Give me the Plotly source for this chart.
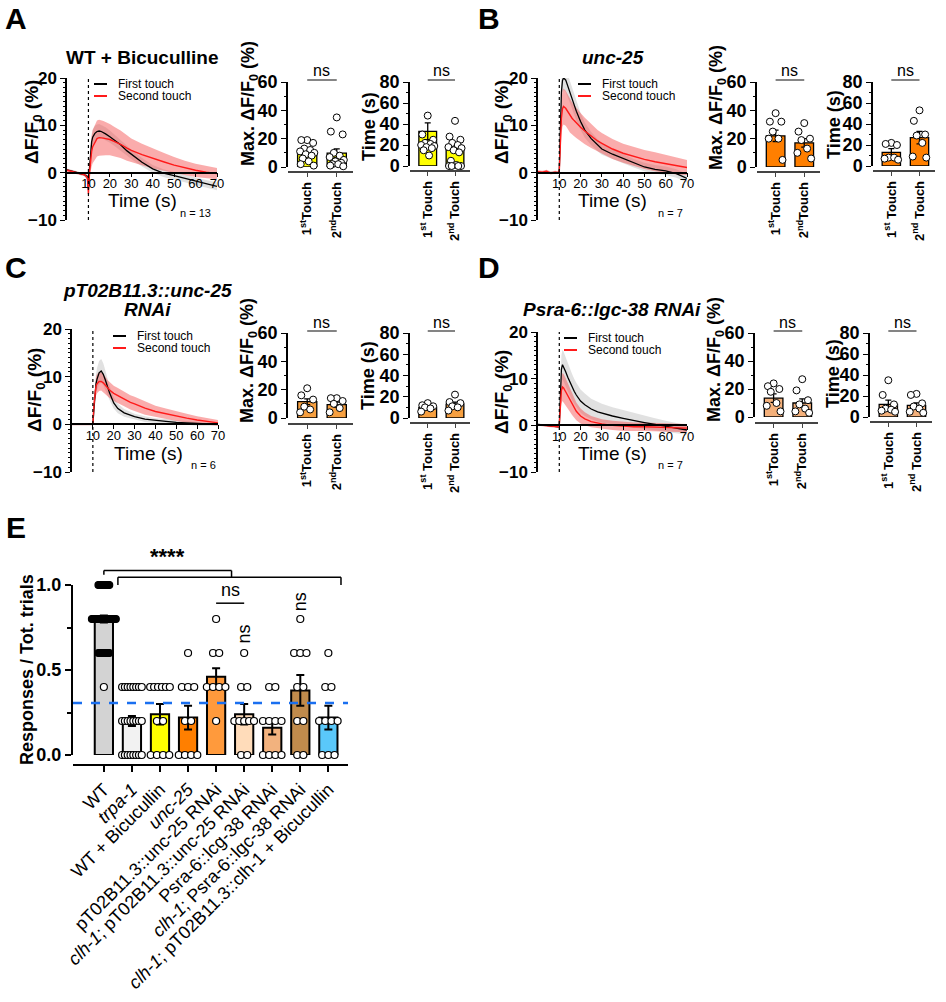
import plotly.graph_objects as go

W, H = 946, 1002
FONT = "Arial, 'Liberation Sans', Helvetica, sans-serif"

# ---------------- DATA ----------------
t = [0, 2, 4, 6, 8, 9.5, 10, 10.5, 11, 11.5, 12, 13, 14, 15, 16, 17, 18, 20, 22, 25, 28, 30, 35, 40, 45, 50, 55, 60, 65, 70]

# Panel A : WT + Bicuculline
A_first = [0.6, 0.4, 0.1, -0.2, -0.4, -0.8, -3.5, 1, 4.5, 6.5, 7.5, 8.3, 8.7, 8.8, 8.7, 8.5, 8.2, 7.6, 6.9, 5.9, 4.6, 3.9, 2.2, 0.8, -0.1, -0.6, -1.2, -1.8, -2.4, -2.9]
A_first_sem = [0.3, 0.3, 0.3, 0.3, 0.3, 0.5, 1, 1.2, 1.5, 1.6, 1.6, 1.6, 1.5, 1.5, 1.4, 1.4, 1.4, 1.3, 1.2, 1.1, 1, 1, 0.9, 0.8, 0.8, 0.8, 0.8, 0.8, 0.8, 0.8]
A_second = [0.5, 0.3, 0.0, -0.2, -0.4, -1, -4.5, 0, 3, 4.5, 5.5, 6.5, 7.2, 7.4, 7.4, 7.3, 7.2, 7, 6.6, 6, 5.2, 4.7, 3.8, 3, 2.3, 1.6, 1, 0.5, 0.1, -0.2]
A_second_sem = [0.3, 0.3, 0.3, 0.3, 0.3, 0.5, 1.2, 2, 2.8, 3.2, 3.5, 3.7, 3.8, 3.8, 3.7, 3.6, 3.5, 3.3, 3.1, 2.9, 2.7, 2.5, 2.3, 2.1, 1.9, 1.7, 1.5, 1.4, 1.3, 1.2]

# Panel B : unc-25
B_first = [0, 0, 0, 0, 0, 0, 0.5, 10, 17, 19.5, 20, 19.6, 18.3, 17, 15.6, 14.2, 13, 10.8, 9, 7.2, 5.8, 5, 3.9, 3, 2, 1.2, 0.7, 0.4, -0.2, -1.2]
B_first_sem = [0.3, 0.3, 0.3, 0.3, 0.3, 0.3, 0.5, 2, 2.5, 2.5, 2.5, 2.5, 2.4, 2.3, 2.2, 2.1, 2, 1.8, 1.6, 1.4, 1.3, 1.2, 1.1, 1, 0.9, 0.9, 0.9, 0.9, 0.9, 0.9]
B_second = [0.2, 0.1, 0.3, -0.1, 0.1, 0, 0.3, 7, 11.5, 13.5, 14, 13.6, 12.8, 12, 11.5, 11, 10.5, 9.6, 8.8, 7.7, 6.7, 6.2, 5, 4.1, 3.4, 2.8, 2.3, 1.9, 1.4, 1.1]
B_second_sem = [0.3, 0.3, 0.3, 0.3, 0.3, 0.3, 0.5, 2.5, 3.5, 3.8, 3.8, 3.7, 3.6, 3.5, 3.4, 3.3, 3.2, 3, 2.8, 2.5, 2.3, 2.2, 2.1, 2, 2, 2, 2, 1.9, 1.8, 1.6]

# Panel C : pT02B11.3::unc-25 RNAi
C_first = [0, 0, 0, 0, 0, 0, 0, 3, 6.5, 8.5, 9.5, 10.8, 11.2, 10.5, 9.3, 8, 6.6, 4.5, 3.3, 2.4, 1.9, 1.6, 1.1, 0.8, 0.6, 0.4, 0.3, 0.1, 0, 0]
C_first_sem = [0.2, 0.2, 0.2, 0.2, 0.2, 0.2, 0.3, 1, 1.5, 2, 2.3, 2.5, 2.5, 2.3, 2, 1.8, 1.5, 1.2, 1, 0.8, 0.7, 0.6, 0.6, 0.5, 0.5, 0.4, 0.4, 0.4, 0.3, 0.3]
C_second = [0, 0, 0, 0, 0, 0, 0, 4, 7, 8, 8.5, 9, 9, 8.7, 8.2, 7.6, 7.2, 6.5, 6, 5.3, 4.6, 4.3, 3.4, 2.7, 2.2, 1.7, 1.3, 0.9, 0.6, 0.3]
C_second_sem = [0.2, 0.2, 0.2, 0.2, 0.2, 0.2, 0.3, 1.2, 1.8, 2, 2, 2, 1.9, 1.8, 1.8, 1.7, 1.7, 1.6, 1.6, 1.5, 1.5, 1.5, 1.4, 1.2, 1.1, 1, 0.9, 0.8, 0.7, 0.6]

# Panel D : Psra-6::lgc-38 RNAi
D_first = [0.2, 0.1, 0, -0.1, -0.2, -0.3, -0.1, 8, 12, 13, 12.6, 11.5, 10.3, 9.2, 8.2, 7.3, 6.5, 5.2, 4.4, 3.5, 2.9, 2.6, 2.0, 1.5, 1.0, 0.6, 0.2, -0.2, -0.6, -1]
D_first_sem = [0.2, 0.2, 0.2, 0.2, 0.2, 0.2, 0.4, 2.5, 3, 3.2, 3.2, 3.1, 3, 2.9, 2.8, 2.7, 2.6, 2.5, 2.4, 2.2, 2.1, 2, 1.9, 1.8, 1.6, 1.5, 1.3, 1.2, 1.1, 1]
D_second = [0.1, 0, -0.1, -0.2, -0.3, -0.3, 0, 5, 7.5, 8.2, 8, 7.2, 6.3, 5.4, 4.5, 3.7, 3, 2, 1.4, 0.8, 0.5, 0.3, 0, -0.2, -0.3, -0.3, -0.4, -0.5, -0.5, -0.6]
D_second_sem = [0.2, 0.2, 0.2, 0.2, 0.2, 0.2, 0.4, 2, 2.8, 3, 3, 2.9, 2.7, 2.5, 2.3, 2.1, 1.9, 1.6, 1.4, 1.2, 1.1, 1, 1, 1, 0.9, 0.9, 0.9, 0.9, 0.9, 0.9]

# Small bar panels (1st touch, 2nd touch)
touch_labels_max = ["1<sup>st</sup>Touch", "2<sup>nd</sup>Touch"]
touch_labels_time = ["1<sup>st</sup> Touch", "2<sup>nd</sup> Touch"]

A_max_mean = [9.5, 9.8]
A_max_sem = [1.5, 3.0]
A_max_pts = [[19, 19, 17, 13, 12, 11, 10, 9, 8, 6, 4, 2, 1],
             [35, 25, 23, 10, 8, 7, 5, 4, 3, 2, 2, 1, 0.5]]
A_time_mean = [33, 18]
A_time_sem = [8, 3]
A_time_pts = [[48, 30, 25, 22, 21, 20, 19, 18, 17, 15, 10],
              [43, 28, 25, 22, 20, 18, 17, 15, 13, 5, 1, 0, 0, 0, 0]]

B_max_mean = [22, 17]
B_max_sem = [4, 3]
B_max_pts = [[38, 32, 32, 25, 20, 20, 5], [31, 25, 20, 19, 13, 10, 6]]
B_time_mean = [13, 27]
B_time_sem = [3.5, 6]
B_time_pts = [[22, 21, 20, 8, 8, 7, 6], [53, 43, 30, 29, 22, 9, 8]]

C_max_mean = [11.5, 9.5]
C_max_sem = [2, 1.8]
C_max_pts = [[21, 16, 13, 8, 6, 4], [14, 14, 12, 10, 7, 4]]
C_time_mean = [10, 13]
C_time_sem = [1.2, 2]
C_time_pts = [[14, 12, 11, 10, 9, 6], [22, 15, 14, 11, 10, 7]]

D_max_mean = [13.5, 10]
D_max_sem = [3, 3]
D_max_pts = [[24, 22, 20, 18, 10, 8, 4], [27, 19, 12, 9, 6, 4, 3]]
D_time_mean = [12, 11]
D_time_sem = [4, 2.5]
D_time_pts = [[35, 21, 12, 8, 7, 6, 5], [22, 21, 13, 10, 8, 5, 4]]

# Panel E
E_categories = ["WT", "<i>trpa-1</i>", "WT + Bicucullin", "<i>unc-25</i>",
                "pT02B11.3::unc-25 RNAi", "<i>clh-1</i>; pT02B11.3::unc-25 RNAi",
                "Psra-6::lcg-38 RNAi", "<i>clh-1</i>; Psra-6::lgc-38 RNAi",
                "<i>clh-1</i>; pT02B11.3::clh-1 + Bicucullin"]
E_means = [0.80, 0.20, 0.24, 0.22, 0.46, 0.24, 0.16, 0.38, 0.22]
E_sems = [0.02, 0.03, 0.06, 0.07, 0.05, 0.06, 0.04, 0.09, 0.07]
E_colors = ["#d3d3d3", "#f2f2f2", "#ffff00", "#ff7f00", "#ff9a3c", "#ffdcba", "#f2b27e", "#c08b4c", "#5ac8fa"]
E_points = [
    [1.0] * 10 + [0.8] * 20 + [0.6] * 9 + [0.4],
    [0.4] * 8 + [0.2] * 8 + [0.0] * 8,
    [0.4] * 6 + [0.2] * 2 + [0.0] * 4,
    [0.6] + [0.4] * 3 + [0.2] * 2 + [0.0] * 4,
    [0.8] + [0.6] * 2 + [0.4] * 4 + [0.2],
    [0.6] + [0.4] * 2 + [0.2] * 5 + [0.0] * 2,
    [0.4] * 2 + [0.2] * 4 + [0.0] * 4,
    [0.8] + [0.6] * 3 + [0.4] * 2 + [0.2] * 2 + [0.0] * 2,
    [0.6] + [0.4] * 2 + [0.2] * 4 + [0.0] * 3,
]
E_threshold = 0.306

# ---------------- HELPERS ----------------
def X(px):
    return px / W


def Y(py):
    return 1 - py / H


def axname(k):
    return ("x" if k == 1 else f"x{k}"), ("y" if k == 1 else f"y{k}")


def laykey(k):
    return ("xaxis" if k == 1 else f"xaxis{k}"), ("yaxis" if k == 1 else f"yaxis{k}")


fig = go.Figure()
layout = {}
annotations = []
shapes = []


def ann(x, y, text, size=14, bold=False, italic=False, angle=0, xanchor="center", yanchor="middle", color="black"):
    if bold:
        text = f"<b>{text}</b>"
    if italic:
        text = f"<i>{text}</i>"
    annotations.append(dict(x=X(x), y=Y(y), xref="paper", yref="paper", text=text, showarrow=False,
                            font=dict(size=size, color=color, family=FONT), textangle=angle,
                            xanchor=xanchor, yanchor=yanchor))


def pline(x0, y0, x1, y1, color="black", width=1.5, dash=None):
    shapes.append(dict(type="line", xref="paper", yref="paper", x0=X(x0), y0=Y(y0), x1=X(x1), y1=Y(y1),
                       line=dict(color=color, width=width, dash=dash)))


# ---------------- TRACE PANELS ----------------
def trace_panel(k, x0, x1, ytop, ybot, first, first_sem, second, second_sem, leg):
    xn, yn = axname(k)
    xk, yk = laykey(k)
    zero_px = ybot - (ybot - ytop) / 3
    layout[xk] = dict(domain=[X(x0), X(x1)], range=[0, 70], anchor="free", position=Y(zero_px),
                      showline=True, linecolor="black", linewidth=1.5, tickvals=[10, 20, 30, 40, 50, 60, 70],
                      ticks="outside", ticklen=4, tickcolor="black", ticklabelstandoff=-5,
                      tickfont=dict(size=13, family=FONT, color="black"),
                      showgrid=False, zeroline=False, automargin=False)
    layout[yk] = dict(domain=[Y(ybot), Y(ytop)], range=[-10, 20], anchor=xn, tickvals=[-10, 0, 10, 20],
                      showline=True, linecolor="black", linewidth=1.5, ticks="outside", ticklen=5,
                      tickcolor="black", tickfont=dict(size=17, family=FONT, color="black", weight="bold"),
                      minor=dict(ticks="outside", ticklen=2, dtick=1, tickcolor="black"),
                      showgrid=False, zeroline=False, automargin=False)
    for mean, sem, fc in ((first, first_sem, "rgba(170,170,170,0.35)"), (second, second_sem, "rgba(245,70,70,0.45)")):
        up = [m + s for m, s in zip(mean, sem)]
        lo = [m - s for m, s in zip(mean, sem)]
        fig.add_trace(go.Scatter(x=t + t[::-1], y=up + lo[::-1], fill="toself", fillcolor=fc,
                                 line=dict(width=0), mode="lines", hoverinfo="skip", xaxis=xn, yaxis=yn))
    fig.add_trace(go.Scatter(x=t, y=first, mode="lines", line=dict(color="black", width=1.3), xaxis=xn, yaxis=yn))
    fig.add_trace(go.Scatter(x=t, y=second, mode="lines", line=dict(color="#ff1a1a", width=1.4), xaxis=xn, yaxis=yn))
    shapes.append(dict(type="line", xref=xn, yref=yn, x0=10, x1=10, y0=-10, y1=20,
                       line=dict(color="black", width=1.2, dash="dot")))
    lx0, lx1, ly1, ly2, tx = leg
    pline(lx0, ly1, lx1, ly1, color="black", width=2)
    pline(lx0, ly2, lx1, ly2, color="#ff1a1a", width=2)
    ann(tx, ly1, "First touch", size=12, xanchor="left")
    ann(tx, ly2, "Second touch", size=12, xanchor="left")


trace_panel(1, 67, 217, 78, 220, A_first, A_first_sem, A_second, A_second_sem, (94, 107, 84, 96, 116))
trace_panel(2, 538, 687, 78, 220, B_first, B_first_sem, B_second, B_second_sem, (578, 591, 84, 96, 600))
trace_panel(3, 72, 218, 329, 472, C_first, C_first_sem, C_second, C_second_sem, (113, 126, 336, 348, 135))
trace_panel(4, 538, 687, 332, 472, D_first, D_first_sem, D_second, D_second_sem, (564, 577, 338, 350, 586))

# y labels / x labels / n labels for trace panels
for (yx, yy, tx, ty, nx, ny, ntext) in ((33, 122, 142, 201, 195, 213, "n = 13"),
                                        (503, 122, 612, 201, 670, 213, "n = 7"),
                                        (36, 390, 148, 453, 203, 465, "n = 6"),
                                        (503, 392, 612, 453, 670, 465, "n = 7")):
    ann(yx, yy, "ΔF/F<sub>0</sub> (%)", size=19, bold=True, angle=-90)
    ann(tx, ty, "Time (s)", size=19)
    ann(nx, ny, ntext, size=11)

ann(142, 58, "WT + Bicuculline", size=19, bold=True)
ann(613, 58, "unc-25", size=19, bold=True, italic=True)
ann(147, 290, "pT02B11.3::unc-25", size=19, bold=True, italic=True)
ann(147, 309, "RNAi", size=19, bold=True, italic=True)
ann(612, 310, "Psra-6::lgc-38 RNAi", size=19, bold=True, italic=True)

for letter, lx, ly in (("A", 16, 18), ("B", 489, 18), ("C", 16, 267), ("D", 489, 267), ("E", 16, 527)):
    ann(lx, ly, letter, size=30, bold=True)

# ---------------- SMALL BAR PANELS ----------------
JIT = [0.0, -0.2, 0.2, -0.1, 0.1, -0.24, 0.24, -0.05, 0.15, -0.15, 0.05, -0.22, 0.22, -0.12, 0.12]
XR = [-0.65, 1.55]


def bar_panel(k, ax_px, right_px, ytop, y0, xline, ymax, color, means, sems, pts, ticktext, ylabel, ylab_xy):
    xn, yn = axname(k)
    xk, yk = laykey(k)
    layout[xk] = dict(domain=[X(ax_px), X(right_px)], range=XR, anchor="free", position=Y(xline),
                      showline=True, linecolor="#444", linewidth=1.5, tickvals=[0, 1], ticktext=ticktext,
                      tickangle=-90, ticks="outside", ticklen=4, tickcolor="#444",
                      tickfont=dict(size=13, family=FONT, color="black", weight="bold"),
                      showgrid=False, zeroline=False, automargin=False)
    layout[yk] = dict(domain=[Y(y0), Y(ytop)], range=[0, ymax], anchor=xn, dtick=20,
                      showline=True, linecolor="black", linewidth=1.5, ticks="outside", ticklen=5,
                      tickcolor="black", tickfont=dict(size=18, family=FONT, color="black", weight="bold"),
                      minor=dict(ticks="outside", ticklen=2, dtick=10, tickcolor="black"),
                      showgrid=False, zeroline=False, automargin=False)
    fig.add_trace(go.Bar(x=[0, 1], y=means, width=0.65, marker=dict(color=color, line=dict(color="black", width=1.3)),
                         error_y=dict(type="data", array=sems, color="black", thickness=1.3, width=3),
                         xaxis=xn, yaxis=yn))
    for i, vals in enumerate(pts):
        xs = [i + JIT[j % len(JIT)] for j in range(len(vals))]
        fig.add_trace(go.Scatter(x=xs, y=vals, mode="markers", cliponaxis=False,
                                 marker=dict(symbol="circle", size=7, color="white", line=dict(color="black", width=1)),
                                 xaxis=xn, yaxis=yn))

    def bpx(i):
        return ax_px + (i - XR[0]) / (XR[1] - XR[0]) * (right_px - ax_px)
    pline(bpx(0), ytop - 2, bpx(1), ytop - 2, color="#333", width=1.2)
    ann((bpx(0) + bpx(1)) / 2, ytop - 11, "ns", size=16)
    ann(ylab_xy[0], ylab_xy[1], ylabel, size=18, bold=True, angle=-90)


MAXLAB = "Max. ΔF/F<sub>0</sub> (%)"
bar_panel(5, 288, 353, 82, 167, 172, 60, "#ffff00", A_max_mean, A_max_sem, A_max_pts, touch_labels_max, MAXLAB, (250, 104))
bar_panel(6, 410, 470, 82, 166, 171, 80, "#ffff00", A_time_mean, A_time_sem, A_time_pts, touch_labels_time, "Time (s)", (369, 127))
bar_panel(7, 757, 820, 82, 167, 172, 60, "#ff7f00", B_max_mean, B_max_sem, B_max_pts, touch_labels_max, MAXLAB, (718, 108))
bar_panel(8, 873, 935, 82, 166, 171, 80, "#ff7f00", B_time_mean, B_time_sem, B_time_pts, touch_labels_time, "Time (s)", (834, 125))
bar_panel(9, 288, 353, 333, 418, 424, 60, "#f7a040", C_max_mean, C_max_sem, C_max_pts, touch_labels_max, MAXLAB, (249, 360))
bar_panel(10, 410, 470, 333, 418, 423, 80, "#f7a040", C_time_mean, C_time_sem, C_time_pts, touch_labels_time, "Time (s)", (368, 376))
bar_panel(11, 755, 818, 333, 417, 423, 60, "#f4b07a", D_max_mean, D_max_sem, D_max_pts, touch_labels_max, MAXLAB, (716, 360))
bar_panel(12, 870, 932, 333, 417, 422, 80, "#f4b07a", D_time_mean, D_time_sem, D_time_pts, touch_labels_time, "Time (s)", (833, 374))

# ---------------- PANEL E ----------------
EX0, EX1, ETOP, EBOT, EXLINE = 73, 348, 585, 755, 765
ER = [-1.1, 8.7]
layout["xaxis13"] = dict(domain=[X(EX0), X(EX1)], range=ER, anchor="free", position=Y(EXLINE),
                         showline=True, linecolor="black", linewidth=2, tickvals=list(range(len(E_categories))),
                         ticktext=E_categories, tickangle=-45, ticks="outside", ticklen=6, tickcolor="black",
                         tickwidth=2, tickfont=dict(size=18, family=FONT, color="black"),
                         showgrid=False, zeroline=False, automargin=False)
layout["yaxis13"] = dict(domain=[Y(EBOT), Y(ETOP)], range=[0, 1], anchor="x13", tickvals=[0, 0.5, 1.0],
                         tickformat=".1f", showline=True, linecolor="black", linewidth=2, ticks="outside",
                         ticklen=6, tickcolor="black", tickwidth=2,
                         tickfont=dict(size=18, family=FONT, color="black", weight="bold"),
                         minor=dict(ticks="outside", ticklen=4, dtick=0.25, tickcolor="black", tickwidth=1.5),
                         showgrid=False, zeroline=False, automargin=False)
fig.add_trace(go.Bar(x=list(range(len(E_means))), y=E_means, width=0.65,
                     marker=dict(color=E_colors, line=dict(color="black", width=2)),
                     error_y=dict(type="data", array=E_sems, color="black", thickness=2, width=4),
                     xaxis="x13", yaxis="y13"))
for i, vals in enumerate(E_points):
    xs, ys, fills = [], [], []
    for v in sorted(set(vals), reverse=True):
        n = vals.count(v)
        s = min(0.22, (0.85 if n >= 9 else 0.7) / (n - 1)) if n > 1 else 0
        for j in range(n):
            xs.append(i + (j - (n - 1) / 2) * s * (0.45 if (n >= 9 and v != 0.8) else 1))
            ys.append(v)
            fills.append("black" if n >= 9 else "white")
    fig.add_trace(go.Scatter(x=xs, y=ys, mode="markers", cliponaxis=False,
                             marker=dict(symbol="circle", size=7, color=fills, line=dict(color="black", width=1.2)),
                             xaxis="x13", yaxis="y13"))


def epx(i):
    return EX0 + (i - ER[0]) / (ER[1] - ER[0]) * (EX1 - EX0)


def epy(v):
    return EBOT - v * (EBOT - ETOP)


pline(EX0, epy(E_threshold), EX1, epy(E_threshold), color="#1a6ff0", width=2.5, dash="dash")
# significance brackets
pline(epx(0), epy(1.06), epx(0), epy(1.085), width=1.5)
pline(epx(0), epy(1.085), epx(4.55), epy(1.085), width=1.5)
pline(epx(4.55), epy(1.085), epx(4.55), epy(1.045), width=1.5)
pline(epx(0.5), epy(1.0), epx(0.5), epy(1.045), width=1.5)
pline(epx(0.5), epy(1.045), epx(8.45), epy(1.045), width=1.5)
pline(epx(8.45), epy(1.045), epx(8.45), epy(1.0), width=1.5)
ann(epx(2.25), epy(1.17), "****", size=22, bold=True)
pline(epx(4.0), epy(0.893), epx(5.0), epy(0.893), width=1.5)
ann(epx(4.5), epy(0.97), "ns", size=18)
ann(epx(5), epy(0.71), "ns", size=18, angle=-90)
ann(epx(7), epy(0.9), "ns", size=18, angle=-90)
ann(27, 670, "Responses / Tot. trials", size=18, bold=True, angle=-90)

layout.update(dict(width=W, height=H, margin=dict(l=0, r=0, t=0, b=0, autoexpand=False), paper_bgcolor="white",
                   plot_bgcolor="white", showlegend=False, annotations=annotations, shapes=shapes,
                   font=dict(family=FONT, color="black"), bargap=0.3, template="none"))
fig.update_layout(**layout)
fig.write_html("out.html", config={"displayModeBar": False},
               post_script="document.body.style.margin='0';document.body.style.padding='0';")
